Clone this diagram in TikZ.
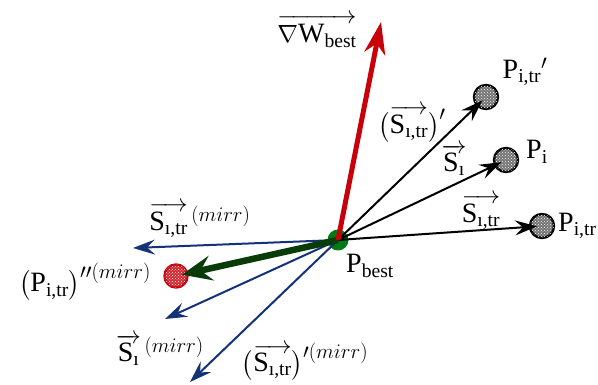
\documentclass[tikz,border=0pt]{standalone}
\usepackage{amsmath}
\usepackage{fontspec}
\setmainfont{Liberation Serif}
\usetikzlibrary{arrows.meta,patterns}
\definecolor{vecblue}{RGB}{20,50,120}
\definecolor{vecred}{RGB}{200,0,10}
\definecolor{vecgreen}{RGB}{10,60,10}
\definecolor{dotgreen}{RGB}{0,120,20}
\newcommand{\Svec}[1]{\overrightarrow{\text{S}_{\text{#1}}}}
\begin{document}
\begin{tikzpicture}[x=1pt,y=-1pt,
    every node/.style={font=\fontsize{28}{32}\selectfont, inner sep=0pt},
    hatchdot/.style={circle, draw=black, line width=2.4pt, minimum size=24pt,
      fill=black!55, postaction={pattern=crosshatch dots, pattern color=white}},
    mirrdot/.style={circle, draw=vecred, line width=2.4pt, minimum size=23pt,
      fill=vecred!85, postaction={pattern=crosshatch dots, pattern color=white}},
    bestdot/.style={circle, fill=dotgreen, minimum size=21pt},
    blackvec/.style={-{Stealth[length=22pt,width=15pt,inset=8pt]}, line width=2pt, shorten >=5pt},
    bluevec/.style={-{Stealth[length=22pt,width=15pt,inset=8pt]}, line width=2pt, vecblue},
    redvec/.style={-{Stealth[length=32pt,width=21pt,inset=10pt]}, line width=5pt, vecred},
    greenvec/.style={-{Stealth[length=30pt,width=25pt,inset=11pt]}, line width=6.5pt, vecgreen, shorten >=6pt}]
    \useasboundingbox (0,0) rectangle (598,385);
    % -------------------------
    % points
    % -------------------------
    \node[bestdot] (best) at (338,240) {};
    \node[hatchdot] (ptrp) at (486,97) {};
    \node[hatchdot] (pi) at (506,160) {};
    \node[hatchdot] (ptr) at (542,226) {};
    \node[mirrdot] (pmirr) at (176,276) {};
    % free ends
    \coordinate (grad) at (381,22);
    \coordinate (mtr) at (133,248);
    \coordinate (ms) at (165,319);
    \coordinate (mtrp) at (190,382);

    % -------------------------
    % vectors
    % -------------------------
    \draw[blackvec] (best.center) -- (ptrp.center);
    \draw[blackvec] (best.center) -- (pi.center);
    \draw[blackvec] (best.center) -- (ptr.center);
    \draw[bluevec] (best.center) -- (mtr);
    \draw[bluevec] (best.center) -- (ms);
    \draw[bluevec] (best.center) -- (mtrp);
    \draw[greenvec] (best.center) -- (pmirr.center);
    \draw[redvec] (best.center) -- (grad);

    % -------------------------
    % labels
    % -------------------------
    \node (lgrad) at (317,31) {$\overrightarrow{\nabla\text{W}_{\text{best}}}$};
    \node (lbest) at (370,266) {P$_{\text{best}}$};
    \node (lptrp) at (525,72) {P$_{\text{i,tr}}{}'$};
    \node (lpi) at (537,152) {P$_{\text{i}}$};
    \node[anchor=west] (lptr) at (558,226) {P$_{\text{i,tr}}$};
    \node (lstrp) at (412,124) {$\bigl(\Svec{ı,tr}\bigr)'$};
    \node (ls) at (454,160) {$\Svec{ı}$};
    \node (lstr) at (481,212) {$\Svec{ı,tr}$};
    \node (lmstr) at (200,220) {$\Svec{ı,tr}^{\,(mirr)}$};
    \node (lmp) at (85,282) {$\bigl(\text{P}_{\text{i,tr}}\bigr)^{\prime\prime(mirr)}$};
    \node (lms) at (160,350) {$\Svec{ı}^{\,(mirr)}$};
    \node (lmstrp) at (305,362) {$\bigl(\Svec{ı,tr}\bigr)^{\prime(mirr)}$};
\end{tikzpicture}
\end{document}
